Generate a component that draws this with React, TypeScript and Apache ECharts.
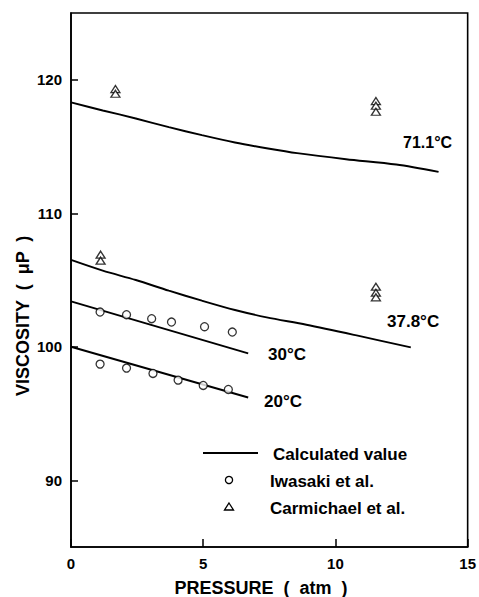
import React, { useEffect, useRef } from "react";
import * as echarts from "echarts";

// Calculated curves [pressure atm, viscosity μP]
const calc711: number[][] = [[0, 118.3], [1.2, 117.7], [2.45, 117.1], [3.7, 116.45], [4.95, 115.85], [6.2, 115.3], [7.45, 114.85], [8.55, 114.5], [10.4, 114.05], [12.3, 113.65], [13.9, 113.1]];
const calc378: number[][] = [[0, 106.5], [1.2, 105.7], [2.45, 105.0], [3.7, 104.2], [4.95, 103.45], [6.2, 102.75], [7.4, 102.2], [8.9, 101.65], [10.8, 100.85], [12.85, 99.95]];
const calc30: number[][] = [[0, 103.4], [6.7, 99.5]];
const calc20: number[][] = [[0, 100.0], [6.7, 96.2]];

// Iwasaki et al. (circles)
const iwasaki30: number[][] = [[1.1, 102.6], [2.1, 102.4], [3.05, 102.1], [3.8, 101.85], [5.05, 101.5], [6.1, 101.1]];
const iwasaki20: number[][] = [[1.1, 98.7], [2.1, 98.4], [3.1, 98.0], [4.05, 97.5], [5.0, 97.1], [5.95, 96.8]];

// Carmichael et al. (triangles)
const carm711: number[][] = [[1.68, 119.3], [1.68, 118.95], [11.53, 118.4], [11.53, 118.05], [11.53, 117.6]];
const carm378: number[][] = [[1.12, 106.9], [1.12, 106.45], [11.53, 104.5], [11.53, 104.05], [11.53, 103.7]];

const yTicks = [90, 100, 110, 120];
const xTicks = [0, 5, 10, 15];
const curveLabels = ["71.1°C", "37.8°C", "30°C", "20°C"];
const legendNames = ["Calculated value", "Iwasaki et al.", "Carmichael et al."];
const xTitle = "PRESSURE  (  atm  )";
const yTitle = "VISCOSITY  (  μP  )";

const FONT = "'Liberation Sans', Arial, sans-serif";

export default function App() {
  const ref = useRef<HTMLDivElement>(null);
  useEffect(() => {
    if (!ref.current) return;
    const chart = echarts.init(ref.current, null, { renderer: "svg" });
    const lineStyle = { color: "#000", width: 1.9 };
    const lineSeries = (data: number[][], smooth: boolean) => ({
      type: "line",
      data,
      smooth: smooth ? 0.3 : false,
      showSymbol: false,
      symbol: "none",
      lineStyle,
      z: 2,
    });
    const markStyle = { color: "#fff", borderColor: "#000", borderWidth: 1.3 };
    const scatter = (data: number[][], symbol: string, size: any) => ({
      type: "scatter",
      data,
      symbol,
      symbolSize: size,
      itemStyle: markStyle,
      z: 3,
    });
    const txt = (x: number, y: number, text: string, size: number, extra: any = {}) => ({
      type: "text",
      x,
      y,
      ...extra,
      style: { text, fontSize: size, fontFamily: FONT, fontWeight: "bold", fill: "#000", verticalAlign: "middle", ...(extra.style || {}) },
    });
    chart.setOption({
      animation: false,
      backgroundColor: "#fff",
      grid: {
        left: 71,
        right: 6,
        top: 13,
        bottom: 50,
        show: true,
        borderColor: "#000",
        borderWidth: 1.6,
        backgroundColor: "transparent",
      },
      xAxis: {
        type: "value",
        min: 0,
        max: 15,
        interval: 5,
        axisLine: { show: true, lineStyle: { color: "#000", width: 1.6 } },
        axisTick: { show: true, inside: true, length: 8, lineStyle: { color: "#000", width: 1.5 }, customValues: xTicks },
        axisLabel: { color: "#000", fontSize: 15, fontWeight: "bold", fontFamily: FONT, margin: 9, customValues: xTicks },
        splitLine: { show: false },
      },
      yAxis: {
        type: "value",
        min: 85,
        max: 125,
        axisLine: { show: true, lineStyle: { color: "#000", width: 1.6 } },
        axisTick: { show: true, inside: true, length: 7, lineStyle: { color: "#000", width: 1.5 }, customValues: yTicks },
        axisLabel: { color: "#000", fontSize: 15, fontWeight: "bold", fontFamily: FONT, margin: 9, customValues: yTicks },
        splitLine: { show: false },
      },
      series: [
        lineSeries(calc711, true),
        lineSeries(calc378, true),
        lineSeries(calc30, false),
        lineSeries(calc20, false),
        scatter(iwasaki30, "circle", 8),
        scatter(iwasaki20, "circle", 8),
        scatter(carm711, "triangle", [9, 7]),
        scatter(carm378, "triangle", [9, 7]),
      ],
      graphic: [
        txt(403, 142, curveLabels[0], 16),
        txt(387, 321, curveLabels[1], 17),
        txt(268, 354, curveLabels[2], 17),
        txt(264, 401, curveLabels[3], 17),
        { type: "line", shape: { x1: 203, y1: 453, x2: 258, y2: 453 }, style: { stroke: "#000", lineWidth: 2 } },
        { type: "circle", shape: { cx: 229, cy: 480, r: 3.6 }, style: { fill: "#fff", stroke: "#000", lineWidth: 1.3 } },
        { type: "polygon", shape: { points: [[229, 503], [233.5, 510], [224.5, 510]] }, style: { fill: "#fff", stroke: "#000", lineWidth: 1.3 } },
        txt(273, 454, legendNames[0], 17),
        txt(270, 481, legendNames[1], 17),
        txt(270, 508, legendNames[2], 17),
        txt(261, 588, xTitle, 18, { style: { align: "center" } }),
        {
          type: "text",
          left: 14,
          top: 235,
          rotation: Math.PI / 2,
          style: { text: yTitle, fontSize: 18, fontFamily: FONT, fontWeight: "bold", fill: "#000" },
        },
      ],
    });
    return () => chart.dispose();
  }, []);
  return <div ref={ref} style={{ position: "fixed", left: 0, top: 0, width: 479, height: 597 }} />;
}
